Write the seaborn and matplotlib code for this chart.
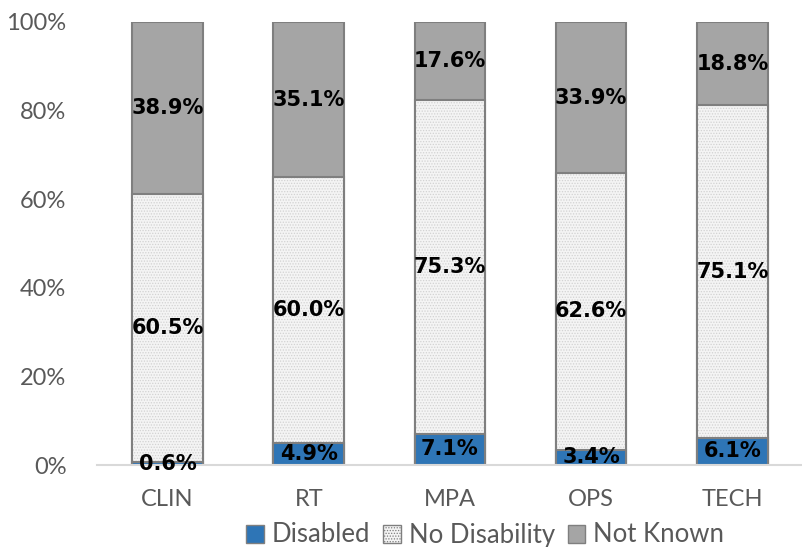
import numpy as np
import pandas as pd
import seaborn as sns
import matplotlib.pyplot as plt
from matplotlib.patches import Patch

# data (percent of each group)
groups = ["CLIN", "RT", "MPA", "OPS", "TECH"]
disabled = [0.6, 4.9, 7.1, 3.4, 6.1]
no_disability = [60.5, 60.0, 75.3, 62.6, 75.1]
not_known = [38.9, 35.1, 17.6, 33.9, 18.8]

c_dis = "#2e75b6"
c_nodis = "#f4f4f4"
c_nk = "#a5a5a5"
edge = "#7f7f7f"
grey_txt = "#595959"

sns.set_style("white")
plt.rcParams["font.family"] = ["Lato", "DejaVu Sans"]
plt.rcParams["hatch.linewidth"] = 0.6

df = pd.DataFrame({"group": groups, "dis": disabled, "nodis": no_disability, "nk": not_known})
df["cum2"] = df["dis"] + df["nodis"]
df["cum3"] = df["cum2"] + df["nk"]

fig = plt.figure(figsize=(8.03, 5.47), dpi=100)
ax = fig.add_axes([97 / 803, 1 - 465 / 547, 1 - 97 / 803, (465 - 22) / 547])

# stacked bars drawn as overlapping cumulative layers
sns.barplot(data=df, x="group", y="cum3", color=c_nk, edgecolor=edge, linewidth=1.5,
            width=0.5, saturation=1, ax=ax)
sns.barplot(data=df, x="group", y="cum2", color=c_nodis, edgecolor="#d2d2d2", linewidth=0,
            hatch="......", width=0.5, saturation=1, ax=ax)
sns.barplot(data=df, x="group", y="cum2", fill=False, edgecolor=edge, linewidth=1.5,
            width=0.5, ax=ax)
sns.barplot(data=df, x="group", y="dis", color=c_dis, edgecolor=edge, linewidth=1.5,
            width=0.5, saturation=1, ax=ax)

lab_kw = dict(ha="center", va="center", fontsize=15, fontweight="bold",
              color="black", family="DejaVu Sans")
for i, row in df.iterrows():
    ax.text(i, row["dis"] / 2, f"{row['dis']:.1f}%", **lab_kw)
    ax.text(i, row["dis"] + row["nodis"] / 2, f"{row['nodis']:.1f}%", **lab_kw)
    ax.text(i, row["cum2"] + row["nk"] / 2, f"{row['nk']:.1f}%", **lab_kw)

ax.set_ylim(0, 100)
ax.set_xlim(-0.5, 4.5)
ax.set_yticks(np.arange(0, 101, 20))
ax.set_yticklabels([f"{v}%" for v in range(0, 101, 20)])
ax.set_xlabel("")
ax.set_ylabel("")
ax.tick_params(axis="both", length=0, labelsize=17, colors=grey_txt)
ax.tick_params(axis="y", pad=22)
ax.tick_params(axis="x", pad=17)
for s in ["top", "right", "left"]:
    ax.spines[s].set_visible(False)
ax.spines["bottom"].set_color("#d9d9d9")
ax.spines["bottom"].set_linewidth(1.5)

handles = [
    Patch(facecolor=c_dis, edgecolor=edge, label="Disabled"),
    Patch(facecolor=c_nodis, edgecolor=edge, hatch="......", label="No Disability"),
    Patch(facecolor=c_nk, edgecolor=edge, label="Not Known"),
]
leg = fig.legend(handles=handles, loc="center", bbox_to_anchor=(485 / 803, 12 / 547),
                 ncol=3, frameon=False, fontsize=18.5, handlelength=0.7, handleheight=0.7,
                 handletextpad=0.3, columnspacing=0.5)
for t in leg.get_texts():
    t.set_color(grey_txt)

fig.savefig("out.png", dpi=100)
